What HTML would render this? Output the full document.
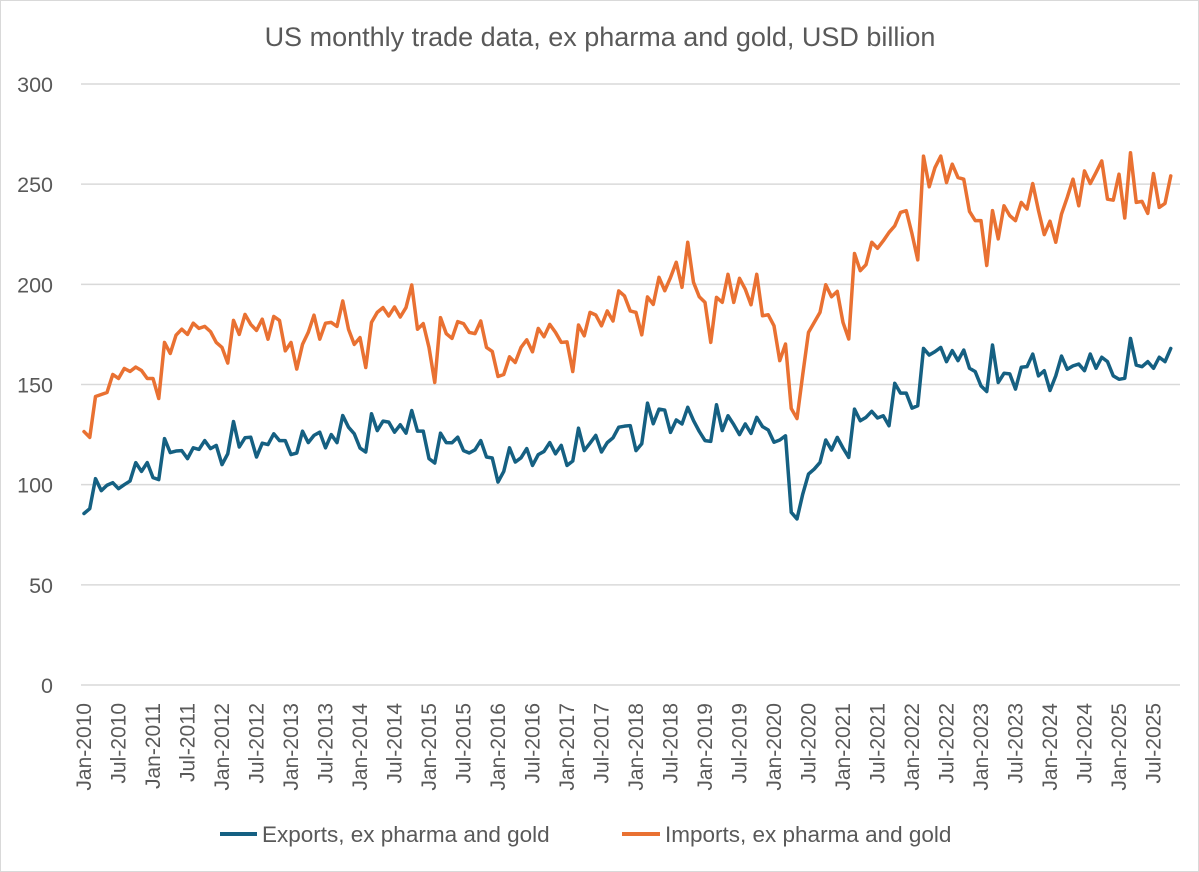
<!DOCTYPE html>
<html><head><meta charset="utf-8"><style>
body{margin:0;background:#fff;}
svg{display:block;font-family:"Liberation Sans",sans-serif;}
</style></head><body>
<svg id="chart" width="1199" height="872">
<rect x="0.5" y="0.5" width="1198" height="871" fill="#fff" stroke="#d9d9d9"/>
<text x="600" y="46" text-anchor="middle" font-size="27" fill="#595959">US monthly trade data, ex pharma and gold, USD billion</text>
<g id="grid"></g><g id="ylab"></g><g id="xlab"></g><g id="series"></g>
<g>
<line x1="220" y1="834" x2="257" y2="834" stroke="#156082" stroke-width="4"/>
<text x="262" y="842" font-size="22.5" fill="#595959">Exports, ex pharma and gold</text>
<line x1="622" y1="834" x2="660" y2="834" stroke="#E97132" stroke-width="4"/>
<text x="665" y="842" font-size="22.5" fill="#595959">Imports, ex pharma and gold</text>
</g>
</svg>
<script>
const yTicks=[0,50,100,150,200,250,300];
const exportsData=[85.6,88,103,97,99.7,101,98,100,101.8,111,106.6,111,103.5,102.5,123,116,116.8,117,113,118.4,117.6,122,118,119.6,110,115.4,131.5,118.8,123.4,123.7,113.8,120.7,120,125.4,122,122,115,115.8,126.7,121,124.6,126.2,118.4,125,121,134.5,128.7,125.4,118.3,116.3,135.4,127,131.7,131.2,126.2,129.9,125.7,137,126.7,126.7,113,110.8,125.7,121,120.9,123.7,117,115.8,117.4,122,113.8,113.3,101.3,106.6,118.4,111.3,113.4,118,109.6,115,116.6,121,115.4,119.6,109.6,111.8,128.2,117,120.7,124.6,116.3,121,123.4,128.7,129.2,129.5,117,120.4,140.7,130.4,137.7,137.2,126.1,132.3,130.3,138.6,132,126.6,122,121.6,139.9,127,134.4,130,125,130.3,125.6,133.6,129,127.3,121.2,122.3,124.4,86.2,82.9,95.3,105.3,107.8,111.1,122.3,117.3,123.6,118.3,113.6,137.7,131.9,133.6,136.6,133.3,134.4,129.4,150.6,145.7,145.7,138.2,139.4,168,164.7,166.4,168.5,161.4,166.9,161.9,167.2,158.1,156.4,149.3,146.5,169.7,151,155.6,155.3,147.7,158.6,158.9,165.2,154.3,156.9,147,154.3,164.2,157.6,159.3,160.2,156.9,165.2,158.1,163.6,161.4,154.3,152.6,153.1,173,159.7,158.9,161.4,158.1,163.6,161.4,168];
const importsData=[126.5,123.6,144,145,146,155,153,158,156.5,158.7,157,153,153,143,171,165.5,174.6,177.6,175,180.6,178,179,176.4,171,168.5,160.7,182,175,185,180,177,182.6,172.6,184,182,166.8,171,157.7,170,176,184.6,172.6,180.6,181,179,191.7,177.6,170,173.4,158.5,181,186,188.4,184.2,188.7,183.7,188.4,199.7,177.6,180.4,168.5,151,183.4,175.4,173,181.4,180.4,176,175.4,181.7,168.5,166.5,154,155,163.8,161,168.5,172.3,166.3,178,173.8,180,176,171,171.3,156.5,179.7,174.3,186,184.7,179.3,186.7,181.7,196.7,194.2,186.7,186,174.8,193.7,190,203.5,196.8,203.4,211,198.5,221,201,193.8,191,171,193.5,191,205,191,203,197.6,189.8,205,184.3,184.8,179.3,161.9,170.2,138,133,155,176,181,186,199.8,193.8,196.5,181,172.7,215.4,206.8,209.8,221,218,221.7,225.9,229.2,235.9,236.8,225.2,212.2,264,248.7,258.3,264,250.8,260,253.3,252.5,236.4,231.8,231.8,209.4,236.8,222.7,239.2,234.3,231.8,240.9,237.6,250.3,236.8,224.8,231.5,221,235.1,243.4,252.5,239.2,256.6,250.3,255.8,261.6,242.5,242,255,233.1,265.7,240.9,241.4,235.4,255.3,238.4,240.4,254.1];
const startYear=2010;
const NS='http://www.w3.org/2000/svg';
const X0=84,DX=5.75,Y0=685,PPU=(685-84)/300;
const xs=i=>X0+i*DX, ys=v=>Y0-v*PPU;
const grid=document.getElementById('grid'),ylab=document.getElementById('ylab'),xlab=document.getElementById('xlab'),ser=document.getElementById('series');
yTicks.forEach(t=>{
 const l=document.createElementNS(NS,'line');
 l.setAttribute('x1',81);l.setAttribute('x2',1180);l.setAttribute('y1',ys(t));l.setAttribute('y2',ys(t));
 l.setAttribute('stroke','#d9d9d9');l.setAttribute('stroke-width',1.5);
 
 
 grid.appendChild(l);
 const tx=document.createElementNS(NS,'text');
 tx.setAttribute('x',53);tx.setAttribute('y',ys(t)+8);tx.setAttribute('text-anchor','end');
 tx.setAttribute('font-size',21.5);tx.setAttribute('fill','#595959');tx.textContent=t;
 
 
 ylab.appendChild(tx);
});
for(let i=0;i<exportsData.length;i+=6){
 const yr=startYear+Math.floor(i/12), lbl=(i%12===0?'Jan-':'Jul-')+yr;
 const tx=document.createElementNS(NS,'text');
 const x=xs(i)+7;
 tx.setAttribute('transform','translate('+x+',703) rotate(-90)');
 tx.setAttribute('text-anchor','end');tx.setAttribute('font-size',21);tx.setAttribute('fill','#595959');
 tx.textContent=lbl;
 
 
 xlab.appendChild(tx);
}
function line(data,color,name){
 const p=document.createElementNS(NS,'polyline');
 p.setAttribute('points',data.map((v,i)=>xs(i).toFixed(2)+','+ys(v).toFixed(2)).join(' '));
 p.setAttribute('fill','none');p.setAttribute('stroke',color);p.setAttribute('stroke-width',3.5);
 p.setAttribute('stroke-linejoin','round');p.setAttribute('stroke-linecap','round');
 
 
 ser.appendChild(p);
}
line(exportsData,'#156082','exports-line');
line(importsData,'#E97132','imports-line');
</script>
</body></html>
